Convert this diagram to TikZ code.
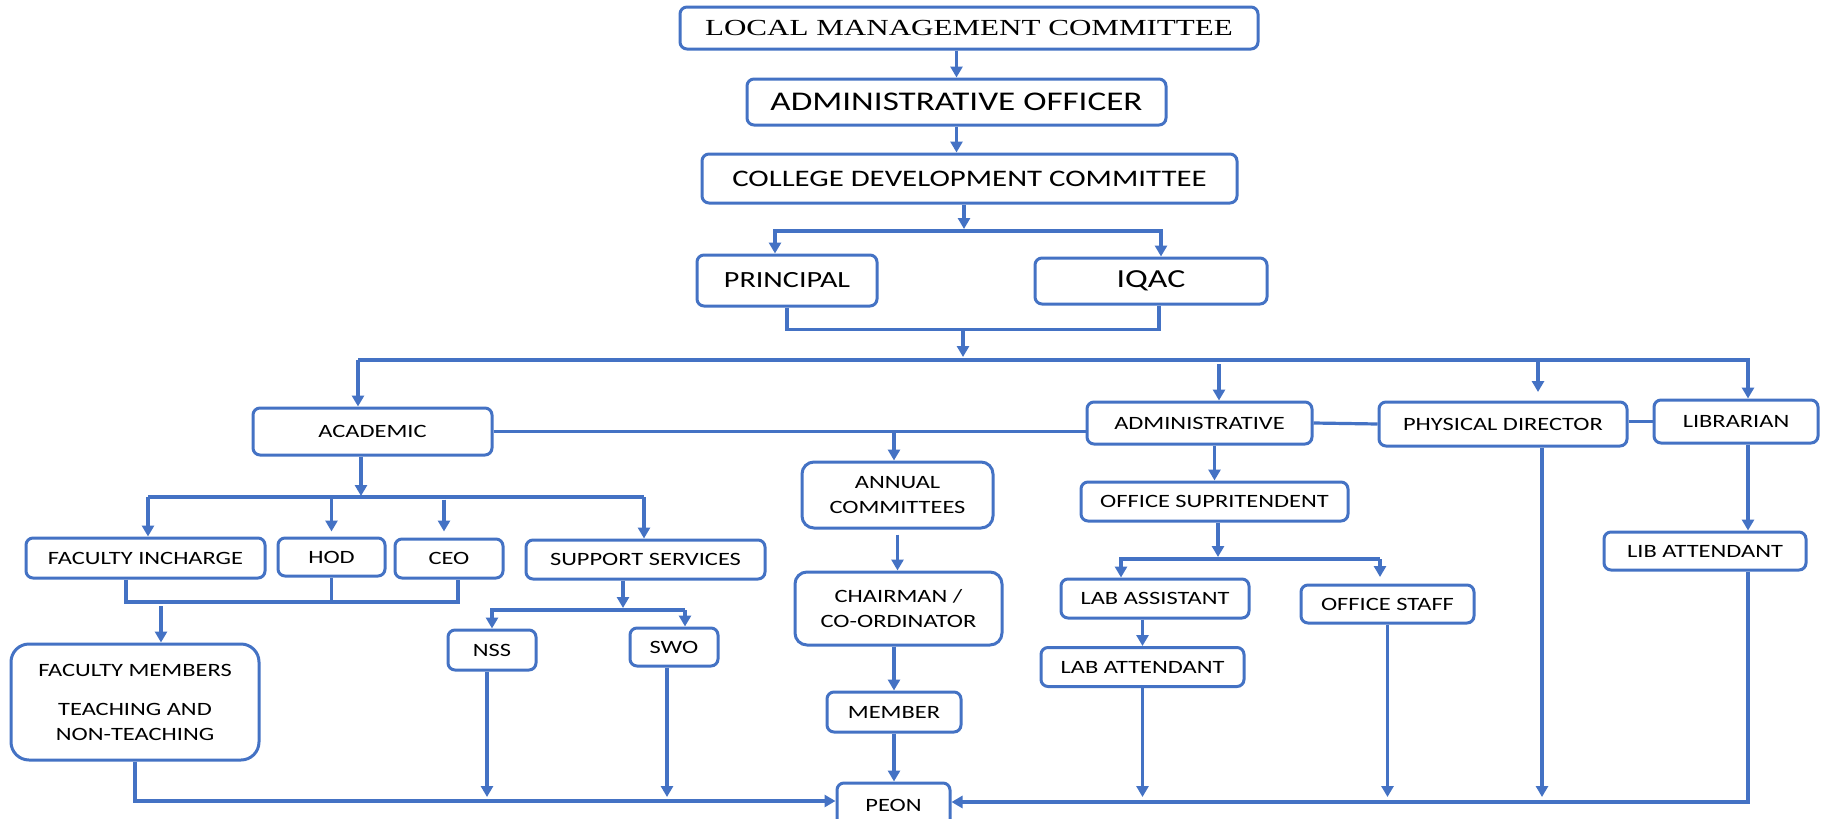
\documentclass[tikz,border=0pt]{standalone}
\usepackage{fontspec}
\setmainfont{Carlito}[FakeStretch=1.3]
\newfontfamily\timesf{Liberation Serif}[FakeStretch=1.35]
\usetikzlibrary{arrows.meta}
\definecolor{lineblue}{RGB}{68,114,196}
\newcommand{\lbl}{\fontsize{18.8}{25}\selectfont}
\tikzset{
  box/.style={draw=lineblue, line width=3pt, rounded corners=7pt, inner sep=0pt,
    align=center, font=\lbl, text=black, fill=white},
  conn/.style={draw=lineblue, line width=3.2pt},
  arr/.style={conn, -{Triangle[length=11pt,width=12pt]}},
}
\begin{document}
\begin{tikzpicture}[x=1pt,y=-1pt]
\fill[white] (0,0) rectangle (1823,819);
\useasboundingbox (0,0) rectangle (1823,819);

% top chain
\node[box, minimum width=578pt, minimum height=42pt, font=\timesf\fontsize{23}{26}\selectfont] (LMC) at (969,28) {LOCAL MANAGEMENT COMMITTEE};
\node[box, minimum width=419pt, minimum height=46pt, font=\fontsize{27}{30}\selectfont] (AO) at (956.5,102) {ADMINISTRATIVE OFFICER};
\node[box, minimum width=535pt, minimum height=49pt, font=\fontsize{23.7}{28}\selectfont] (CDC) at (969.5,178.5) {COLLEGE DEVELOPMENT COMMITTEE};
\node[box, minimum width=180pt, minimum height=51pt, font=\fontsize{23.2}{28}\selectfont] (PRIN) at (787,280.5) {PRINCIPAL};
\node[box, minimum width=232pt, minimum height=46pt, font=\fontsize{26}{30}\selectfont] (IQAC) at (1151,281) {IQAC};

% second level
\node[box, minimum width=239pt, minimum height=47pt] (ACAD) at (372.5,431.5) {ACADEMIC};
\node[box, minimum width=225pt, minimum height=42pt] (ADMIN) at (1199.5,423) {ADMINISTRATIVE};
\node[box, minimum width=248pt, minimum height=44pt] (PD) at (1503,424) {PHYSICAL DIRECTOR};
\node[box, minimum width=164pt, minimum height=43pt] (LIB) at (1736,421.5) {LIBRARIAN};

% academic branch
\node[box, minimum width=239pt, minimum height=40pt] (FI) at (145.5,558) {FACULTY INCHARGE};
\node[box, minimum width=107pt, minimum height=38pt] (HOD) at (331.5,557) {HOD};
\node[box, minimum width=108pt, minimum height=39pt] (CEO) at (449,558.5) {CEO};
\node[box, minimum width=239pt, minimum height=39pt] (SS) at (645.5,559.5) {SUPPORT SERVICES};
\node[box, minimum width=248pt, minimum height=116pt, rounded corners=18pt] (FM) at (135,702) {FACULTY MEMBERS\\[14pt]TEACHING AND\\NON-TEACHING};
\node[box, minimum width=88pt, minimum height=40pt] (NSS) at (492,650) {NSS};
\node[box, minimum width=88pt, minimum height=38pt] (SWO) at (674,647) {SWO};

% committees branch
\node[box, minimum width=191pt, minimum height=66pt, rounded corners=12pt] (ANN) at (897.5,495) {ANNUAL\\COMMITTEES};
\node[box, minimum width=207pt, minimum height=73pt, rounded corners=12pt] (CHAIR) at (898.5,608.5) {CHAIRMAN /\\CO-ORDINATOR};
\node[box, minimum width=134pt, minimum height=40pt] (MEM) at (894,712) {MEMBER};
\node[box, minimum width=113pt, minimum height=44pt] (PEON) at (893.5,805) {PEON};

% administrative branch
\node[box, minimum width=267pt, minimum height=39pt] (OS) at (1214.5,501.5) {OFFICE SUPRITENDENT};
\node[box, minimum width=188pt, minimum height=39pt] (LA) at (1155,598.5) {LAB ASSISTANT};
\node[box, minimum width=173pt, minimum height=38pt] (OST) at (1387.5,604) {OFFICE STAFF};
\node[box, minimum width=203pt, minimum height=39pt] (LATT) at (1142.5,667) {LAB ATTENDANT};
\node[box, minimum width=202pt, minimum height=38pt] (LIBATT) at (1705,551) {LIB ATTENDANT};

% helper coordinates
\coordinate (j0) at (964,229);
\coordinate (j1) at (964,231);
\coordinate (j3) at (963,331);
\coordinate (j4) at (963,357);
\coordinate (mL) at (358,360);
\coordinate (mR) at (1748,360);
\coordinate (a1) at (1219,364);
\coordinate (p1) at (1538,362);
\coordinate (p2) at (1538,392);
\coordinate (an1) at (894,430);
\coordinate (k) at (361,496);
\coordinate (kL) at (148,497);
\coordinate (kR) at (644,497);
\coordinate (fb) at (126,602);
\coordinate (fbR) at (458,602);
\coordinate (fm1) at (161,606);
\coordinate (s1) at (623,608);
\coordinate (sL) at (492,610);
\coordinate (sR) at (685,610);
\coordinate (o1) at (1218,557);
\coordinate (oL) at (1121,559);
\coordinate (oR) at (1380,559);
\coordinate (oRe) at (1380,577);
\coordinate (pdx) at (1542,0);
\coordinate (endy) at (0,797);

% top connectors
\draw[arr] (LMC.south -| AO.north) -- (AO.north);
\draw[arr] (AO.south) -- (CDC.north -| AO.south);
\draw[arr] (CDC.south -| j0) -- (j0);
\draw[arr] (j1) -| ([xshift=-12pt]PRIN.north);
\draw[arr] (j1) -| ([xshift=10pt]IQAC.north);
\draw[conn] (PRIN.south) -- ++(0,22) -| ([xshift=8pt]IQAC.south);
\draw[arr] (j3) -- (j4);

% main distribution line
\draw[arr] (mL) -- (mL |- ACAD.north);
\draw[arr] (mL) -- (mR) -- (mR |- LIB.north);
\draw[arr] (a1) -- (a1 |- ADMIN.north);
\draw[arr] (p1) -- (p2);

% horizontal links between second level boxes
\draw[conn] (ACAD.east) -- (ADMIN.west |- ACAD.east);
\draw[conn] (ADMIN.east) -- (PD.west);
\draw[conn] (LIB.west -| PD.east) -- (LIB.west);

% committees chain
\draw[arr] (an1) -- (an1 |- ANN.north);
\draw[arr] ([yshift=-5pt]ANN.south) -- (CHAIR.north -| ANN.south);
\draw[arr] (CHAIR.south -| MEM.north) -- (MEM.north);
\draw[arr] (MEM.south) -- (PEON.north -| MEM.south);

% academic branch connectors
\draw[arr] (ACAD.south -| k) -- (k);
\draw[conn] (kL) -- (kR);
\draw[arr] (kL) -- (kL |- FI.north);
\draw[arr] ([yshift=40pt]HOD.north) -- ([yshift=5pt]HOD.north);
\draw[arr] ([xshift=-5pt,yshift=38pt]CEO.north) -- ([xshift=-5pt,yshift=6pt]CEO.north);
\draw[arr] (kR) -- (kR |- SS.north);
\draw[conn] (FI.south -| fb) |- (fbR) -- (fbR |- CEO.south);
\draw[conn] (HOD.south) -- (HOD.south |- fb);
\draw[arr] (fm1) -- (fm1 |- FM.north);
\draw[arr] (SS.south -| s1) -- (s1);
\draw[arr] (sR) -- (sL) -- (sL |- NSS.north);
\draw[arr] (sR) -- (sR |- SWO.north);
\draw[arr] ([xshift=-5pt]NSS.south) -- ([xshift=-5pt]NSS.south |- endy);
\draw[arr] ([xshift=-7pt]SWO.south) -- ([xshift=-7pt]SWO.south |- endy);
\draw[arr] (FM.south) |- ([yshift=4pt]PEON.west);

% administrative branch connectors
\draw[arr] (ADMIN.south -| OS.north) -- (OS.north);
\draw[arr] (OS.south -| o1) -- (o1);
\draw[arr] (oR) -- (oL) -- (oL |- LA.north);
\draw[arr] (oR) -- (oRe);
\draw[arr] (LA.south -| LATT.north) -- (LATT.north);
\draw[arr] (LATT.south) -- (LATT.south |- endy);
\draw[arr] (OST.south) -- (OST.south |- endy);
\draw[arr] (PD.south -| pdx) -- (pdx |- endy);
\draw[arr] (LIB.south -| mR) -- (LIBATT.north -| mR);
\draw[arr] (LIBATT.south -| mR) |- ([yshift=3pt]PEON.east);
\end{tikzpicture}
\end{document}
